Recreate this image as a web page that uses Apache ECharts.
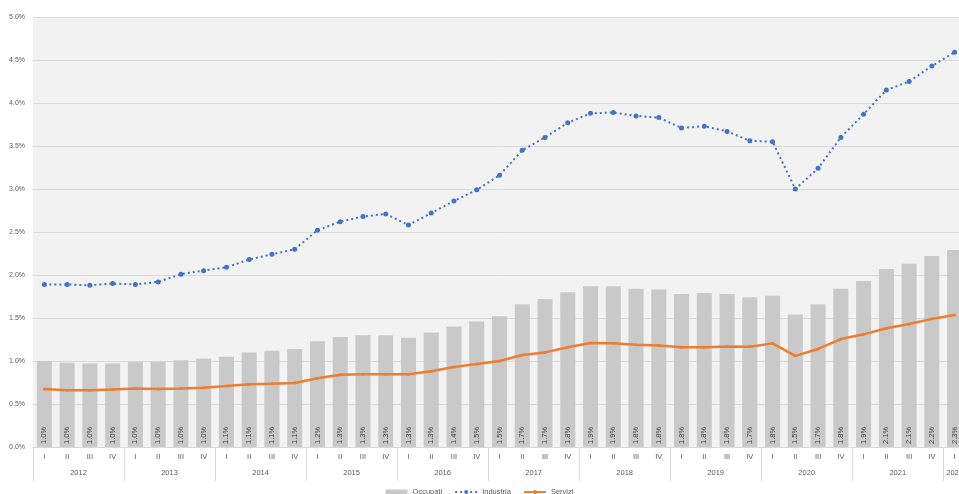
<!DOCTYPE html>
<html>
<head>
<meta charset="utf-8">
<script src="https://cdn.jsdelivr.net/npm/echarts@6/dist/echarts.min.js"></script>
<style>
html,body{margin:0;padding:0;background:#fff;}
#c{width:959px;height:494px;}
</style>
</head>
<body>
<div id="c"></div>
<script>
const quarters = ['I','II','III','IV','I','II','III','IV','I','II','III','IV','I','II','III','IV','I','II','III','IV','I','II','III','IV','I','II','III','IV','I','II','III','IV','I','II','III','IV','I','II','III','IV','I'];
const years = ['2012','2013','2014','2015','2016','2017','2018','2019','2020','2021','2022'];
const occupati = [1.00,0.98,0.97,0.97,0.99,0.99,1.01,1.03,1.05,1.10,1.12,1.14,1.23,1.28,1.30,1.30,1.27,1.33,1.40,1.46,1.52,1.66,1.72,1.80,1.87,1.87,1.84,1.83,1.78,1.79,1.78,1.74,1.76,1.54,1.66,1.84,1.93,2.07,2.13,2.22,2.29];
const industria = [1.89,1.89,1.88,1.90,1.89,1.92,2.01,2.05,2.09,2.18,2.24,2.30,2.52,2.62,2.68,2.71,2.58,2.72,2.86,2.99,3.16,3.45,3.60,3.77,3.88,3.89,3.85,3.83,3.71,3.73,3.67,3.56,3.55,3.00,3.24,3.60,3.87,4.15,4.25,4.43,4.59];
const servizi = [0.675,0.66,0.66,0.67,0.68,0.675,0.68,0.69,0.71,0.73,0.735,0.745,0.80,0.84,0.845,0.845,0.845,0.88,0.93,0.965,1.00,1.07,1.10,1.16,1.21,1.205,1.19,1.18,1.16,1.16,1.17,1.165,1.205,1.06,1.14,1.255,1.31,1.38,1.43,1.49,1.535];

// year axis: half-quarter positions (boundaryGap false), year label at centre of its quarters
const yearAxisData = [];
for (let i = 0; i <= quarters.length * 2; i++) yearAxisData.push('');
years.forEach(function(y, k){
  const nq = Math.min(4, quarters.length - k*4);
  yearAxisData[k*8 + nq] = y;
});

const FONT = 'Liberation Sans';
const chart = echarts.init(document.getElementById('c'), null, {renderer:'canvas'});
chart.setOption({
  animation:false,
  textStyle:{fontFamily:FONT},
  grid:{left:33,right:-7,top:17,bottom:47,show:true,backgroundColor:'#f2f2f2',borderWidth:0,
        containLabel:false,outerBoundsMode:'none'},
  legend:{
    top:483,left:'center',itemGap:12,itemWidth:22,itemHeight:5,
    textStyle:{fontSize:7.5,color:'#595959',fontFamily:FONT},
    data:[
      {name:'Occupati',icon:'rect'},
      {name:'Industria'},
      {name:'Servizi'}
    ]
  },
  xAxis:[
    {type:'category',data:quarters,boundaryGap:true,
     axisLine:{show:true,lineStyle:{color:'#d9d9d9'}},
     axisTick:{show:false},
     axisLabel:{interval:0,fontSize:7.5,color:'#595959',margin:6}},
    {type:'category',data:yearAxisData,boundaryGap:false,position:'bottom',
     axisLine:{show:false},
     axisTick:{show:true,length:34,interval:function(i){return i%8===0;},lineStyle:{color:'#d9d9d9'}},
     axisLabel:{interval:0,fontSize:7.5,color:'#595959',margin:22}}
  ],
  yAxis:{type:'value',min:0,max:5,interval:0.5,
    axisLine:{show:false},axisTick:{show:false},
    splitLine:{lineStyle:{color:'#d9d9d9',width:1}},
    axisLabel:{fontSize:7,color:'#595959',margin:8,formatter:function(v){return v.toFixed(1)+'%';}}},
  series:[
    {name:'Occupati',type:'bar',data:occupati,barWidth:'66%',
     itemStyle:{color:'#c9c9c9'},
     label:{show:true,position:'insideBottom',rotate:90,align:'left',verticalAlign:'middle',distance:3,
       fontSize:7.5,color:'#404040',formatter:function(p){return p.value.toFixed(1)+'%';}}},
    {name:'Industria',type:'line',data:industria,
     lineStyle:{color:'#4472c4',width:2,type:[2,3]},
     itemStyle:{color:'#4472c4'},symbol:'circle',symbolSize:5,z:5},
    {name:'Servizi',type:'line',data:servizi,
     lineStyle:{color:'#ed7d31',width:2.5},
     itemStyle:{color:'#ed7d31'},symbol:'circle',symbolSize:3,z:4}
  ]
});
</script>
</body>
</html>
